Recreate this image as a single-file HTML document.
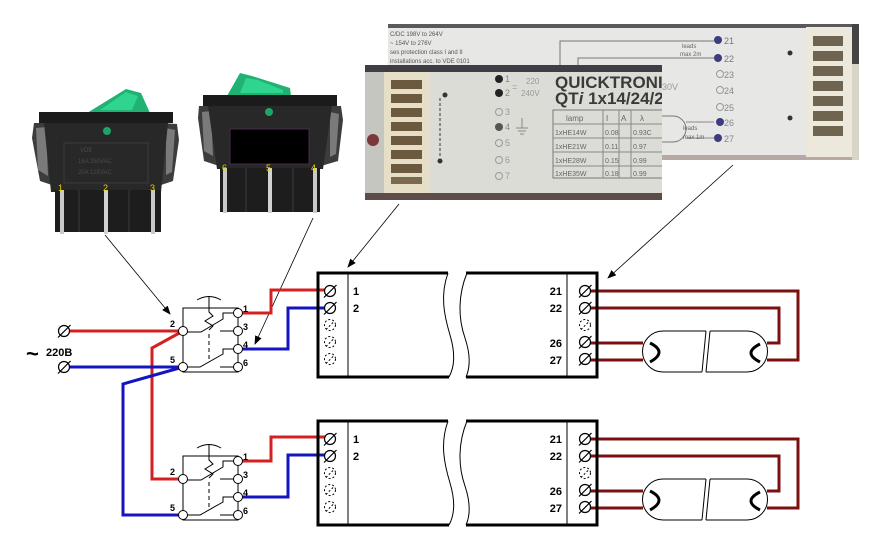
<!DOCTYPE html>
<html><head><meta charset="utf-8"><style>
html,body{margin:0;padding:0;background:#fff;}
svg{display:block;font-family:"Liberation Sans",Arial,sans-serif;}
</style></head><body>
<svg width="891" height="554" viewBox="0 0 891 554" xmlns="http://www.w3.org/2000/svg">
<defs>
<marker id="ah" markerUnits="userSpaceOnUse" markerWidth="9" markerHeight="7" refX="8" refY="3.5" orient="auto"><path d="M0,0 L9,3.5 L0,7 z" fill="#000"/></marker>
<g id="term"><circle r="5.5" fill="#fff" stroke="#000" stroke-width="1.2"/><line x1="-6" y1="6.5" x2="6.5" y2="-6" stroke="#000" stroke-width="1.2"/></g>
<g id="dterm"><circle r="5.5" fill="#fff" stroke="#000" stroke-width="1" stroke-dasharray="2,2"/><line x1="-4" y1="4.5" x2="4.5" y2="-4" stroke="#000" stroke-width="1" stroke-dasharray="2,2"/></g>
<clipPath id="p2clip"><rect x="365" y="65" width="297" height="135"/></clipPath>
</defs>

<!-- ===== Switch photo 1 ===== -->
<g>
<polygon points="34,123 52,123 55,186 40,181 32,138" fill="#3c3c3c"/>
<polygon points="36,128 46,127 48,176 38,170" fill="#7a7a7a"/>
<polygon points="160,123 177,124 179,140 173,181 158,186" fill="#3c3c3c"/>
<polygon points="166,128 175,130 172,172 166,175" fill="#7a7a7a"/>
<polygon points="87,113 126,89 141,93 150,113" fill="#1fb272"/>
<polygon points="100,110 126,92 138,96 132,110" fill="#2fd48e"/>
<rect x="39" y="112" width="134" height="11" fill="#1b1b1b"/>
<polygon points="44,123 168,123 161,192 51,192" fill="#282828"/>
<rect x="64" y="143" width="84" height="40" fill="none" stroke="#3c3c3c" stroke-width="1"/>
<text x="80" y="152" font-size="6" fill="#4a4a4a">VDE</text>
<text x="78" y="163" font-size="6" fill="#4a4a4a">16A 250VAC</text>
<text x="78" y="174" font-size="6" fill="#4a4a4a">20A 125VAC</text>
<circle cx="107" cy="131" r="4" fill="#1da468"/>
<rect x="55" y="190" width="106" height="42" fill="#1d1d1d"/>
<rect x="78" y="190" width="2" height="42" fill="#2c2c2c"/>
<rect x="128" y="190" width="2" height="42" fill="#2c2c2c"/>
<rect x="60" y="190" width="4" height="44" fill="#c9c9c9"/>
<rect x="104" y="190" width="4" height="44" fill="#d2d2d2"/>
<rect x="151" y="190" width="4" height="44" fill="#c9c9c9"/>
<text x="58" y="191" font-size="9" fill="#e8d400">1</text>
<text x="103" y="191" font-size="9" fill="#e8d400">2</text>
<text x="150" y="191" font-size="9" fill="#e8d400">3</text>
</g>

<!-- ===== Switch photo 2 ===== -->
<g>
<polygon points="199,106 216,106 219,166 204,161 198,118" fill="#3c3c3c"/>
<polygon points="202,112 211,111 213,156 204,151" fill="#7a7a7a"/>
<polygon points="324,106 341,106 343,120 338,161 321,166" fill="#3c3c3c"/>
<polygon points="330,112 339,114 336,154 330,157" fill="#7a7a7a"/>
<polygon points="227,96 240,73 252,76 290,88 291,96" fill="#1fb272"/>
<polygon points="240,93 246,78 258,80 283,90 283,93" fill="#2fd48e"/>
<rect x="203" y="95" width="134" height="11" fill="#1b1b1b"/>
<polygon points="208,106 332,106 323,169 217,169" fill="#282828"/>
<rect x="230" y="129" width="79" height="35" fill="#000" stroke="#4a2a4a" stroke-width="1"/>
<circle cx="269" cy="112" r="4" fill="#1da468"/>
<rect x="220" y="168" width="100" height="44" fill="#1d1d1d"/>
<rect x="245" y="168" width="2" height="44" fill="#2c2c2c"/>
<rect x="292" y="168" width="2" height="44" fill="#2c2c2c"/>
<rect x="223" y="168" width="4" height="45" fill="#c9c9c9"/>
<rect x="268" y="168" width="4" height="45" fill="#d2d2d2"/>
<rect x="313" y="168" width="4" height="45" fill="#c9c9c9"/>
<text x="222" y="171" font-size="9" fill="#e8d400">6</text>
<text x="266" y="171" font-size="9" fill="#e8d400">5</text>
<text x="311" y="171" font-size="9" fill="#e8d400">4</text>
</g>

<!-- ===== Ballast photo 1 (back) ===== -->
<g>
<rect x="388" y="24" width="471" height="136" fill="#e7e7e5"/>
<rect x="388" y="24" width="471" height="4" fill="#5a5a5c"/>
<rect x="388" y="155" width="471" height="5" fill="#b8a8a4"/>
<text x="390" y="36" font-size="6" fill="#555">C/DC 198V to 264V</text>
<text x="390" y="45" font-size="6" fill="#555">~ 154V to 276V</text>
<text x="390" y="54" font-size="6" fill="#555">ses protection class I and II</text>
<text x="390" y="63" font-size="6" fill="#555">installations acc. to VDE 0101</text>
<path d="M560,70 V41 H714 M578,70 V58 H714" fill="none" stroke="#777" stroke-width="1"/>
<text x="682" y="48" font-size="6" fill="#666">leads</text>
<text x="680" y="56" font-size="6" fill="#666">max 2m</text>
<text x="662" y="90" font-size="9" fill="#999">30V</text>
<rect x="650" y="116" width="36" height="26" rx="13" fill="none" stroke="#777" stroke-width="1"/>
<path d="M686,122 H714 M686,138 H714" fill="none" stroke="#888" stroke-width="1"/>
<text x="683" y="130" font-size="6" fill="#666">leads</text>
<text x="683" y="139" font-size="6" fill="#666">max 1m</text>
<circle cx="718" cy="40" r="4" fill="#3c3c80"/>
<circle cx="718" cy="58" r="4" fill="#3c3c80"/>
<circle cx="720" cy="74" r="3.5" fill="none" stroke="#999"/>
<circle cx="720" cy="90" r="3.5" fill="none" stroke="#999"/>
<circle cx="720" cy="107" r="3.5" fill="none" stroke="#999"/>
<circle cx="720" cy="122" r="4" fill="#3c3c80"/>
<circle cx="718" cy="138" r="4" fill="#3c3c80"/>
<text x="724" y="44" font-size="9" fill="#777">21</text>
<text x="724" y="62" font-size="9" fill="#777">22</text>
<text x="724" y="78" font-size="9" fill="#888">23</text>
<text x="724" y="94" font-size="9" fill="#888">24</text>
<text x="724" y="111" font-size="9" fill="#888">25</text>
<text x="724" y="126" font-size="9" fill="#888">26</text>
<text x="724" y="142" font-size="9" fill="#888">27</text>
<circle cx="790" cy="53" r="2.5" fill="#333"/>
<circle cx="790" cy="118" r="2.5" fill="#333"/>
<rect x="806" y="27" width="46" height="130" fill="#ece8dc"/>
<rect x="813" y="36" width="30" height="10" fill="#6f6450"/>
<rect x="813" y="51" width="30" height="10" fill="#6f6450"/>
<rect x="813" y="66" width="30" height="10" fill="#6f6450"/>
<rect x="813" y="81" width="30" height="10" fill="#6f6450"/>
<rect x="813" y="96" width="30" height="10" fill="#6f6450"/>
<rect x="813" y="111" width="30" height="10" fill="#6f6450"/>
<rect x="813" y="126" width="30" height="10" fill="#6f6450"/>
<rect x="852" y="24" width="7" height="40" fill="#444"/>
<rect x="852" y="64" width="7" height="96" fill="#d8d4c8"/>
</g>

<!-- ===== Ballast photo 2 (front) ===== -->
<g clip-path="url(#p2clip)">
<rect x="365" y="65" width="297" height="135" fill="#dcdcd6"/>
<rect x="365" y="65" width="297" height="7" fill="#3e3e44"/>
<rect x="365" y="193" width="297" height="7" fill="#5e4c4a"/>
<rect x="365" y="72" width="20" height="121" fill="#c6c6c0"/>
<rect x="384" y="72" width="46" height="121" fill="#e6dec6"/>
<rect x="391" y="80" width="31" height="9" fill="#6b5a3e"/>
<rect x="391" y="94" width="31" height="9" fill="#6b5a3e"/>
<rect x="391" y="108" width="31" height="9" fill="#6b5a3e"/>
<rect x="391" y="122" width="31" height="9" fill="#6b5a3e"/>
<rect x="391" y="136" width="31" height="9" fill="#6b5a3e"/>
<rect x="391" y="150" width="31" height="9" fill="#6b5a3e"/>
<rect x="391" y="164" width="31" height="9" fill="#6b5a3e"/>
<rect x="391" y="177" width="31" height="7" fill="#7b6a4e"/>
<circle cx="373" cy="140" r="6" fill="#7a3838"/>
<line x1="440" y1="98" x2="440" y2="158" stroke="#888" stroke-width="2" stroke-dasharray="3,2"/>
<circle cx="445" cy="95" r="2.5" fill="#333"/>
<circle cx="440" cy="161" r="2.5" fill="#333"/>
<circle cx="499" cy="79" r="4" fill="#222"/>
<circle cx="499" cy="93" r="4" fill="#222"/>
<circle cx="499" cy="112" r="3.5" fill="none" stroke="#999"/>
<circle cx="499" cy="127" r="4" fill="#555"/>
<circle cx="499" cy="143" r="3.5" fill="none" stroke="#999"/>
<circle cx="499" cy="160" r="3.5" fill="none" stroke="#999"/>
<circle cx="499" cy="176" r="3.5" fill="none" stroke="#999"/>
<text x="505" y="82" font-size="9" fill="#888">1</text>
<text x="505" y="96" font-size="9" fill="#888">2</text>
<text x="505" y="115" font-size="9" fill="#999">3</text>
<text x="505" y="130" font-size="9" fill="#888">4</text>
<text x="505" y="146" font-size="9" fill="#999">5</text>
<text x="505" y="163" font-size="9" fill="#999">6</text>
<text x="505" y="179" font-size="9" fill="#999">7</text>
<text x="512" y="90" font-size="9" fill="#999">=</text>
<text x="526" y="84" font-size="8" fill="#999">220</text>
<text x="521" y="96" font-size="8" fill="#999">240V</text>
<path d="M522,118 V128 M516,128 H528 M518,131 H526 M520,134 H524" stroke="#888" stroke-width="1" fill="none"/>
<text x="555" y="88" font-size="17" font-weight="bold" fill="#3a3a3a">QUICKTRONIC</text>
<text x="555" y="104" font-size="17" font-weight="bold" fill="#3a3a3a">QT<tspan font-style="italic">i</tspan> 1x14/24/21</text>
<rect x="553" y="110" width="130" height="68" fill="none" stroke="#777" stroke-width="1"/>
<path d="M553,124 H683 M553,138 H683 M553,152 H683 M553,166 H683 M603,110 V178 M619,110 V178 M631,110 V178" stroke="#888" stroke-width="1" fill="none"/>
<text x="566" y="121" font-size="8" fill="#666">lamp</text>
<text x="606" y="121" font-size="8" fill="#666">I</text>
<text x="621" y="121" font-size="8" fill="#666">A</text>
<text x="640" y="121" font-size="8" fill="#666">λ</text>
<text x="555" y="135" font-size="7" fill="#666">1xHE14W</text><text x="605" y="135" font-size="7" fill="#666">0.08</text><text x="633" y="135" font-size="7" fill="#666">0.93C</text>
<text x="555" y="149" font-size="7" fill="#666">1xHE21W</text><text x="605" y="149" font-size="7" fill="#666">0.11</text><text x="633" y="149" font-size="7" fill="#666">0.97</text>
<text x="555" y="163" font-size="7" fill="#666">1xHE28W</text><text x="605" y="163" font-size="7" fill="#666">0.15</text><text x="633" y="163" font-size="7" fill="#666">0.99</text>
<text x="555" y="176" font-size="7" fill="#666">1xHE35W</text><text x="605" y="176" font-size="7" fill="#666">0.18</text><text x="633" y="176" font-size="7" fill="#666">0.99</text>
</g>

<!-- ===== Arrows ===== -->
<g stroke="#000" stroke-width="0.8" fill="none">
<line x1="105" y1="235" x2="170" y2="314" marker-end="url(#ah)"/>
<line x1="313" y1="218" x2="255" y2="344" marker-end="url(#ah)"/>
<line x1="399" y1="204" x2="348" y2="267" marker-end="url(#ah)"/>
<line x1="733" y1="165" x2="608" y2="278" marker-end="url(#ah)"/>
</g>

<!-- ===== Wires (behind terminals) ===== -->
<g fill="none" stroke-width="3" stroke-linejoin="miter">
<path d="M70,331 H183 M183,331 L152,348 V479 H183" stroke="#d42020"/>
<path d="M70,367 H183 M183,367 L123,384 V515 H183" stroke="#1414c0"/>
<path d="M238,313 H271 V290 H330" stroke="#d42020"/>
<path d="M238,349 H288 V308 H330" stroke="#1414c0"/>
<path d="M238,461 H271 V437 H330" stroke="#d42020"/>
<path d="M238,497 H288 V455 H330" stroke="#1414c0"/>
<g stroke="#7a1010">
<path d="M585,291 H798 V360 H767 M585,308 H779 V343 H767 M585,343 H643 M585,360 H643"/>
<path d="M585,439 H798 V508 H767 M585,456 H779 V491 H767 M585,491 H643 M585,508 H643"/>
</g>
</g>

<!-- ===== AC input ===== -->
<use href="#term" x="64" y="331"/>
<use href="#term" x="64" y="367"/>
<text x="26" y="361" font-size="22" font-weight="bold" fill="#000">~</text>
<text x="46" y="356" font-size="11" font-weight="bold" fill="#000">220B</text>

<!-- ===== Switch diagrams ===== -->
<g id="sw1" stroke="#000" stroke-width="1" fill="none">
<path d="M183,308 H238 V372 H183 Z"/>
<path d="M197,300 Q209,293 221,300"/>
<path d="M209,296 V312 L213,316 L205,321 L213,326 L209,330"/>
<path d="M209,334 V362" stroke-dasharray="4,3"/>
<path d="M183,332 H201 L223,319 V313 H238"/>
<path d="M220,331 H238"/>
<path d="M183,367 H200 L223,354 V349 H238"/>
<path d="M220,367 H238"/>
<g fill="#fff">
<circle cx="183" cy="331" r="4.5"/><circle cx="183" cy="367" r="4.5"/>
<circle cx="238" cy="313" r="4.5"/><circle cx="238" cy="331" r="4.5"/>
<circle cx="238" cy="349" r="4.5"/><circle cx="238" cy="367" r="4.5"/>
</g>
<g stroke="none" fill="#000" font-size="9" font-weight="bold">
<text x="170" y="327">2</text><text x="170" y="363">5</text>
<text x="243" y="312">1</text><text x="243" y="330">3</text>
<text x="243" y="348">4</text><text x="243" y="366">6</text>
</g>
</g>
<use href="#sw1" x="0" y="148"/>

<!-- ===== Ballast boxes ===== -->
<g id="bal">
<path d="M448,273 H318 V377 H449" fill="none" stroke="#000" stroke-width="3"/>
<path d="M466,273 H597 V377 H466" fill="none" stroke="#000" stroke-width="3"/>
<path d="M448,273 C440,295 444,315 450,335 C456,355 454,368 449,377" fill="none" stroke="#000" stroke-width="1"/>
<path d="M467,273 C458,295 458,318 465,338 C471,356 470,368 466,377" fill="none" stroke="#000" stroke-width="1"/>
<line x1="348" y1="273" x2="348" y2="377" stroke="#000" stroke-width="1"/>
<line x1="567" y1="273" x2="567" y2="377" stroke="#000" stroke-width="1"/>
<use href="#term" x="330" y="291"/>
<use href="#term" x="330" y="308"/>
<use href="#dterm" x="330" y="325"/>
<use href="#dterm" x="330" y="342"/>
<use href="#dterm" x="330" y="359"/>
<use href="#term" x="585" y="291"/>
<use href="#term" x="585" y="308"/>
<use href="#dterm" x="585" y="325"/>
<use href="#term" x="585" y="342"/>
<use href="#term" x="585" y="359"/>
<g font-size="11" font-weight="bold" fill="#000">
<text x="353" y="295">1</text><text x="353" y="312">2</text>
<text x="562" y="295" text-anchor="end">21</text>
<text x="562" y="312" text-anchor="end">22</text>
<text x="562" y="347" text-anchor="end">26</text>
<text x="562" y="364" text-anchor="end">27</text>
</g>
</g>
<use href="#bal" x="0" y="148"/>

<!-- ===== Lamps ===== -->
<g id="lamp">
<path d="M706,331 H663 A20.5,20.5 0 0 0 663,372 H702" fill="#fff" stroke="#000" stroke-width="1"/>
<path d="M706,331 L702,372" fill="none" stroke="#000" stroke-width="1"/>
<path d="M710,331 H747 A20.5,20.5 0 0 1 747,372 H706" fill="#fff" stroke="#000" stroke-width="1"/>
<path d="M710,331 L706,372" fill="none" stroke="#000" stroke-width="1"/>
<path d="M650,343 Q668,352 650,362" fill="none" stroke="#000" stroke-width="3"/>
<path d="M760,344 Q742,353 760,362" fill="none" stroke="#000" stroke-width="3"/>
</g>
<use href="#lamp" x="0" y="148"/>
</svg>
</body></html>
